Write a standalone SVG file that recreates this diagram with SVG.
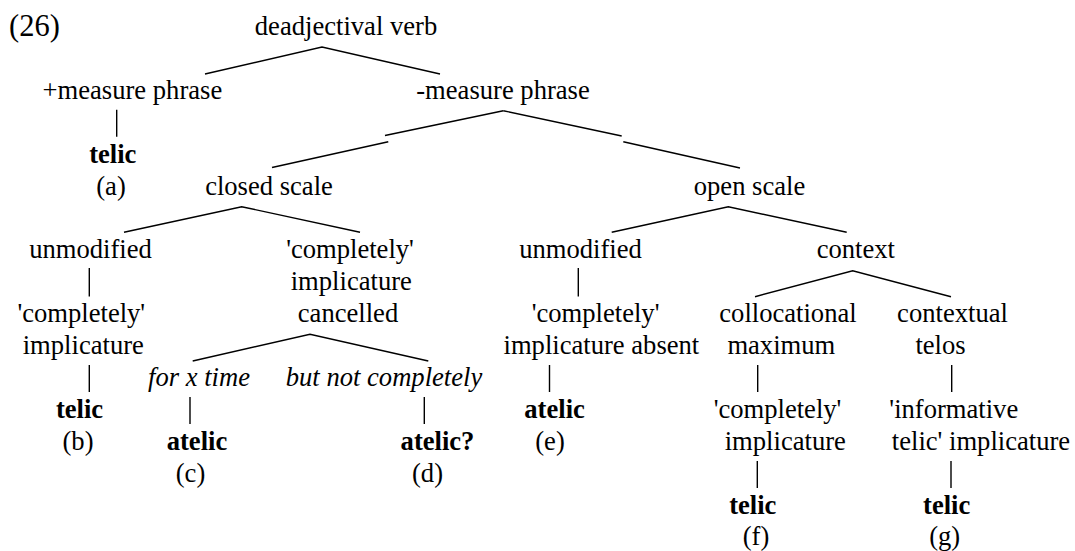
<svg xmlns="http://www.w3.org/2000/svg" width="1075" height="551" viewBox="0 0 1075 551">
<style>
text{font-family:"Liberation Serif","Times New Roman",serif;font-size:26.6px;fill:#000;text-anchor:middle}
.b{font-weight:bold}
.i{font-style:italic}
.num{text-anchor:start;font-size:30.5px}
line,polyline{stroke:#000;stroke-width:1.4;fill:none}
</style>
<rect width="1075" height="551" fill="#fff"/>
<g id="connectors">
<polyline points="205,74 322,47 440,74"/>
<line x1="503.3" y1="110.7" x2="385" y2="135.5"/>
<line x1="388.3" y1="141.7" x2="272" y2="167.5"/>
<line x1="503.3" y1="110.7" x2="621.7" y2="136"/>
<line x1="623.3" y1="141.7" x2="740" y2="168"/>
<polyline points="124,232.3 241.7,206.7 360,232.3"/>
<polyline points="611.7,232.3 728.3,206.7 846.7,232.3"/>
<polyline points="192.7,361 310,334.3 428.3,361"/>
<polyline points="755,296.7 852.7,270.7 951,296.7"/>
<line x1="116.7" y1="109.7" x2="116.7" y2="136.7"/>
<line x1="89.3" y1="268" x2="89.3" y2="296.5"/>
<line x1="89.3" y1="365" x2="89.3" y2="392"/>
<line x1="190" y1="397" x2="190" y2="424"/>
<line x1="424.3" y1="397" x2="424.3" y2="424"/>
<line x1="578.3" y1="268" x2="578.3" y2="296.5"/>
<line x1="549.5" y1="365" x2="549.5" y2="392"/>
<line x1="757.7" y1="365" x2="757.7" y2="392"/>
<line x1="951.7" y1="365" x2="951.7" y2="392"/>
<line x1="757.3" y1="461" x2="757.3" y2="488"/>
<line x1="951" y1="461" x2="951" y2="488"/>
</g>
<g id="label"><text class="num" x="9" y="36">(26)</text></g>
<g id="root"><text x="346" y="35">deadjectival verb</text></g>
<g id="plus-measure"><text x="132.4" y="98.8">+measure phrase</text></g>
<g id="minus-measure"><text x="503" y="98.8">-measure phrase</text></g>
<g id="a"><text class="b" x="112.8" y="162.6">telic</text><text x="111" y="194.5">(a)</text></g>
<g id="closed-scale"><text x="269" y="194.5">closed scale</text></g>
<g id="open-scale"><text x="749.5" y="194.5">open scale</text></g>
<g id="closed-unmodified"><text x="90.5" y="258.3">unmodified</text></g>
<g id="closed-implicature"><text x="81.3" y="322.1">'completely'</text><text x="83.3" y="354">implicature</text></g>
<g id="b"><text class="b" x="79.5" y="417.8">telic</text><text x="78" y="449.7">(b)</text></g>
<g id="cancelled"><text x="350" y="258.3">'completely'</text><text x="351.3" y="290.2">implicature</text><text x="348" y="322.1">cancelled</text></g>
<g id="for-x-time"><text class="i" x="199" y="385.9">for x time</text></g>
<g id="but-not-completely"><text class="i" x="384" y="385.9">but not completely</text></g>
<g id="c"><text class="b" x="197" y="449.7">atelic</text><text x="190.5" y="481.6">(c)</text></g>
<g id="d"><text class="b" x="437.5" y="449.7">atelic?</text><text x="427.5" y="481.6">(d)</text></g>
<g id="open-unmodified"><text x="580.5" y="258.3">unmodified</text></g>
<g id="absent"><text x="595.6" y="322.1">'completely'</text><text x="601.4" y="354">implicature absent</text></g>
<g id="e"><text class="b" x="554.6" y="417.8">atelic</text><text x="550" y="449.7">(e)</text></g>
<g id="context"><text x="855.8" y="258.3">context</text></g>
<g id="collocational"><text x="788" y="322.1">collocational</text><text x="781.3" y="354">maximum</text></g>
<g id="contextual"><text x="952.5" y="322.1">contextual</text><text x="940.5" y="354">telos</text></g>
<g id="f-implicature"><text x="777.5" y="417.8">'completely'</text><text x="785.3" y="449.7">implicature</text></g>
<g id="g-implicature"><text x="953.8" y="417.8">'informative</text><text x="981" y="449.7">telic' implicature</text></g>
<g id="f"><text class="b" x="752.8" y="513.5">telic</text><text x="756" y="545.4">(f)</text></g>
<g id="g"><text class="b" x="946.7" y="513.5">telic</text><text x="944.7" y="545.4">(g)</text></g>
</svg>
